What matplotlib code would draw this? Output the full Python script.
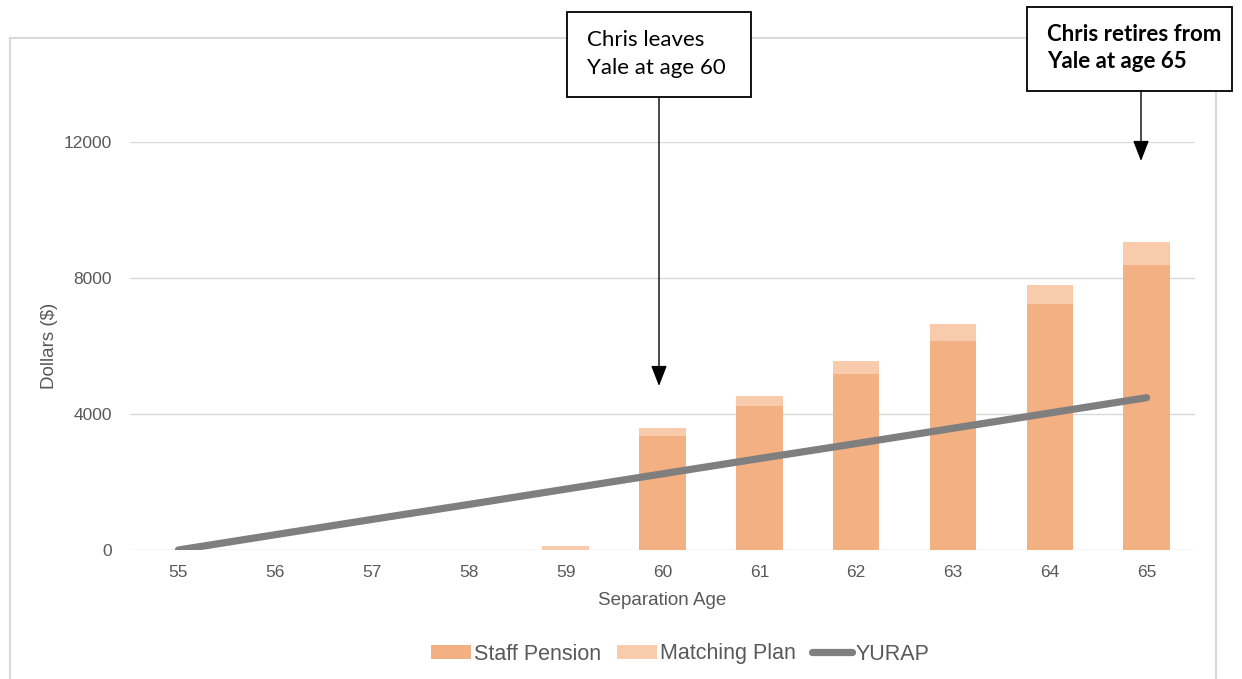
import matplotlib
matplotlib.use("Agg")
import matplotlib.pyplot as plt
from matplotlib.patches import Rectangle, FancyArrowPatch
from matplotlib.lines import Line2D
import numpy as np

ages = ["55", "56", "57", "58", "59", "60", "61", "62", "63", "64", "65"]
staff_pension = [0, 0, 0, 0, 0, 3350, 4240, 5180, 6150, 7240, 8380]
matching_plan = [0, 0, 0, 0, 120, 240, 290, 380, 500, 560, 680]
yurap = [0, 450, 900, 1340, 1790, 2240, 2690, 3130, 3580, 4030, 4480]
y_ticks = [0, 4000, 8000, 12000]

W, H = 1242, 679
fig = plt.figure(figsize=(W / 100, H / 100), dpi=100)
plt.rcParams['font.family'] = ['Liberation Sans', 'DejaVu Sans']

def fy(y):
    return (H - y) / H

def fx(x):
    return x / W

ax = fig.add_axes([fx(130), fy(550), fx(1195) - fx(130), fy(142) - fy(550)])
x = np.arange(len(ages))
c_staff = "#F3B183"
c_match = "#F8CBAC"
ax.bar(x, staff_pension, width=0.48, color=c_staff, label="Staff Pension", zorder=2)
ax.bar(x, matching_plan, width=0.48, bottom=staff_pension, color=c_match, label="Matching Plan", zorder=2)
ax.plot(x, yurap, color="#7F7F7F", lw=5.2, solid_capstyle="round", label="YURAP", zorder=3)

ax.set_xlim(-0.5, len(ages) - 0.5)
ax.set_ylim(0, 12000)
ax.set_yticks(y_ticks)
ax.set_yticklabels([str(v) for v in y_ticks])
ax.set_xticks(x)
ax.set_xticklabels(ages)
for s in ax.spines.values():
    s.set_visible(False)
ax.grid(axis="y", color="#D9D9D9", lw=1, zorder=0)
ax.tick_params(axis="both", length=0, labelsize=12.5, labelcolor="#595959")
ax.tick_params(axis="y", pad=13)
ax.tick_params(axis="x", pad=11)
ax.set_xlabel("Separation Age", fontsize=13.5, color="#595959")
ax.set_ylabel("Dollars ($)", fontsize=13.5, color="#595959")
ax.xaxis.set_label_coords(0.5, -0.102)
ax.yaxis.set_label_coords(-0.068, 0.5)

handles, labels = ax.get_legend_handles_labels()
order = [1, 2, 0]
leg = fig.legend([handles[i] for i in order], [labels[i] for i in order],
                 loc="center", bbox_to_anchor=(fx(680), fy(654)), ncol=3, frameon=False,
                 fontsize=15.5, handlelength=1.86, handleheight=0.6, columnspacing=0.75,
                 handletextpad=0.15, borderaxespad=0, borderpad=0)
for t in leg.get_texts():
    t.set_color("#595959")

# outer frame
frame_kw = dict(color="#D9D9D9", lw=1.5, transform=fig.transFigure)
fig.add_artist(Line2D([fx(10), fx(1218)], [fy(38), fy(38)], **frame_kw))
fig.add_artist(Line2D([fx(10), fx(10)], [fy(38), fy(679)], **frame_kw))
fig.add_artist(Line2D([fx(1216), fx(1216)], [fy(38), fy(679)], **frame_kw))

# annotation boxes
def box(x0, y0, x1, y1, lines, weight, size, tx, baselines):
    fig.add_artist(Rectangle((fx(x0), fy(y1)), fx(x1) - fx(x0), fy(y0) - fy(y1),
                             transform=fig.transFigure, facecolor="white",
                             edgecolor="black", lw=1.3, zorder=5))
    for line, by in zip(lines, baselines):
        fig.text(fx(tx), fy(by), line, fontsize=size, fontweight=weight,
                 family=["Lato", "DejaVu Sans"], va="baseline", ha="left", zorder=6)

box(567, 12, 751, 97, ["Chris leaves", "Yale at age 60"], "normal", 16, 587, [46, 74])
box(1027, 7, 1232, 91, ["Chris retires from", "Yale at age 65"], "bold", 16, 1047, [41, 68])

def arrow(xp, y0, y1):
    fig.add_artist(FancyArrowPatch((fx(xp), fy(y0)), (fx(xp), fy(y1)),
                                   transform=fig.transFigure, arrowstyle="-|>,head_length=0.9,head_width=0.35",
                                   mutation_scale=14, color="black", lw=1.0,
                                   shrinkA=0, shrinkB=0, zorder=6))

arrow(659, 97, 386)
arrow(1141, 91, 161)

fig.savefig("out.png", dpi=100)
